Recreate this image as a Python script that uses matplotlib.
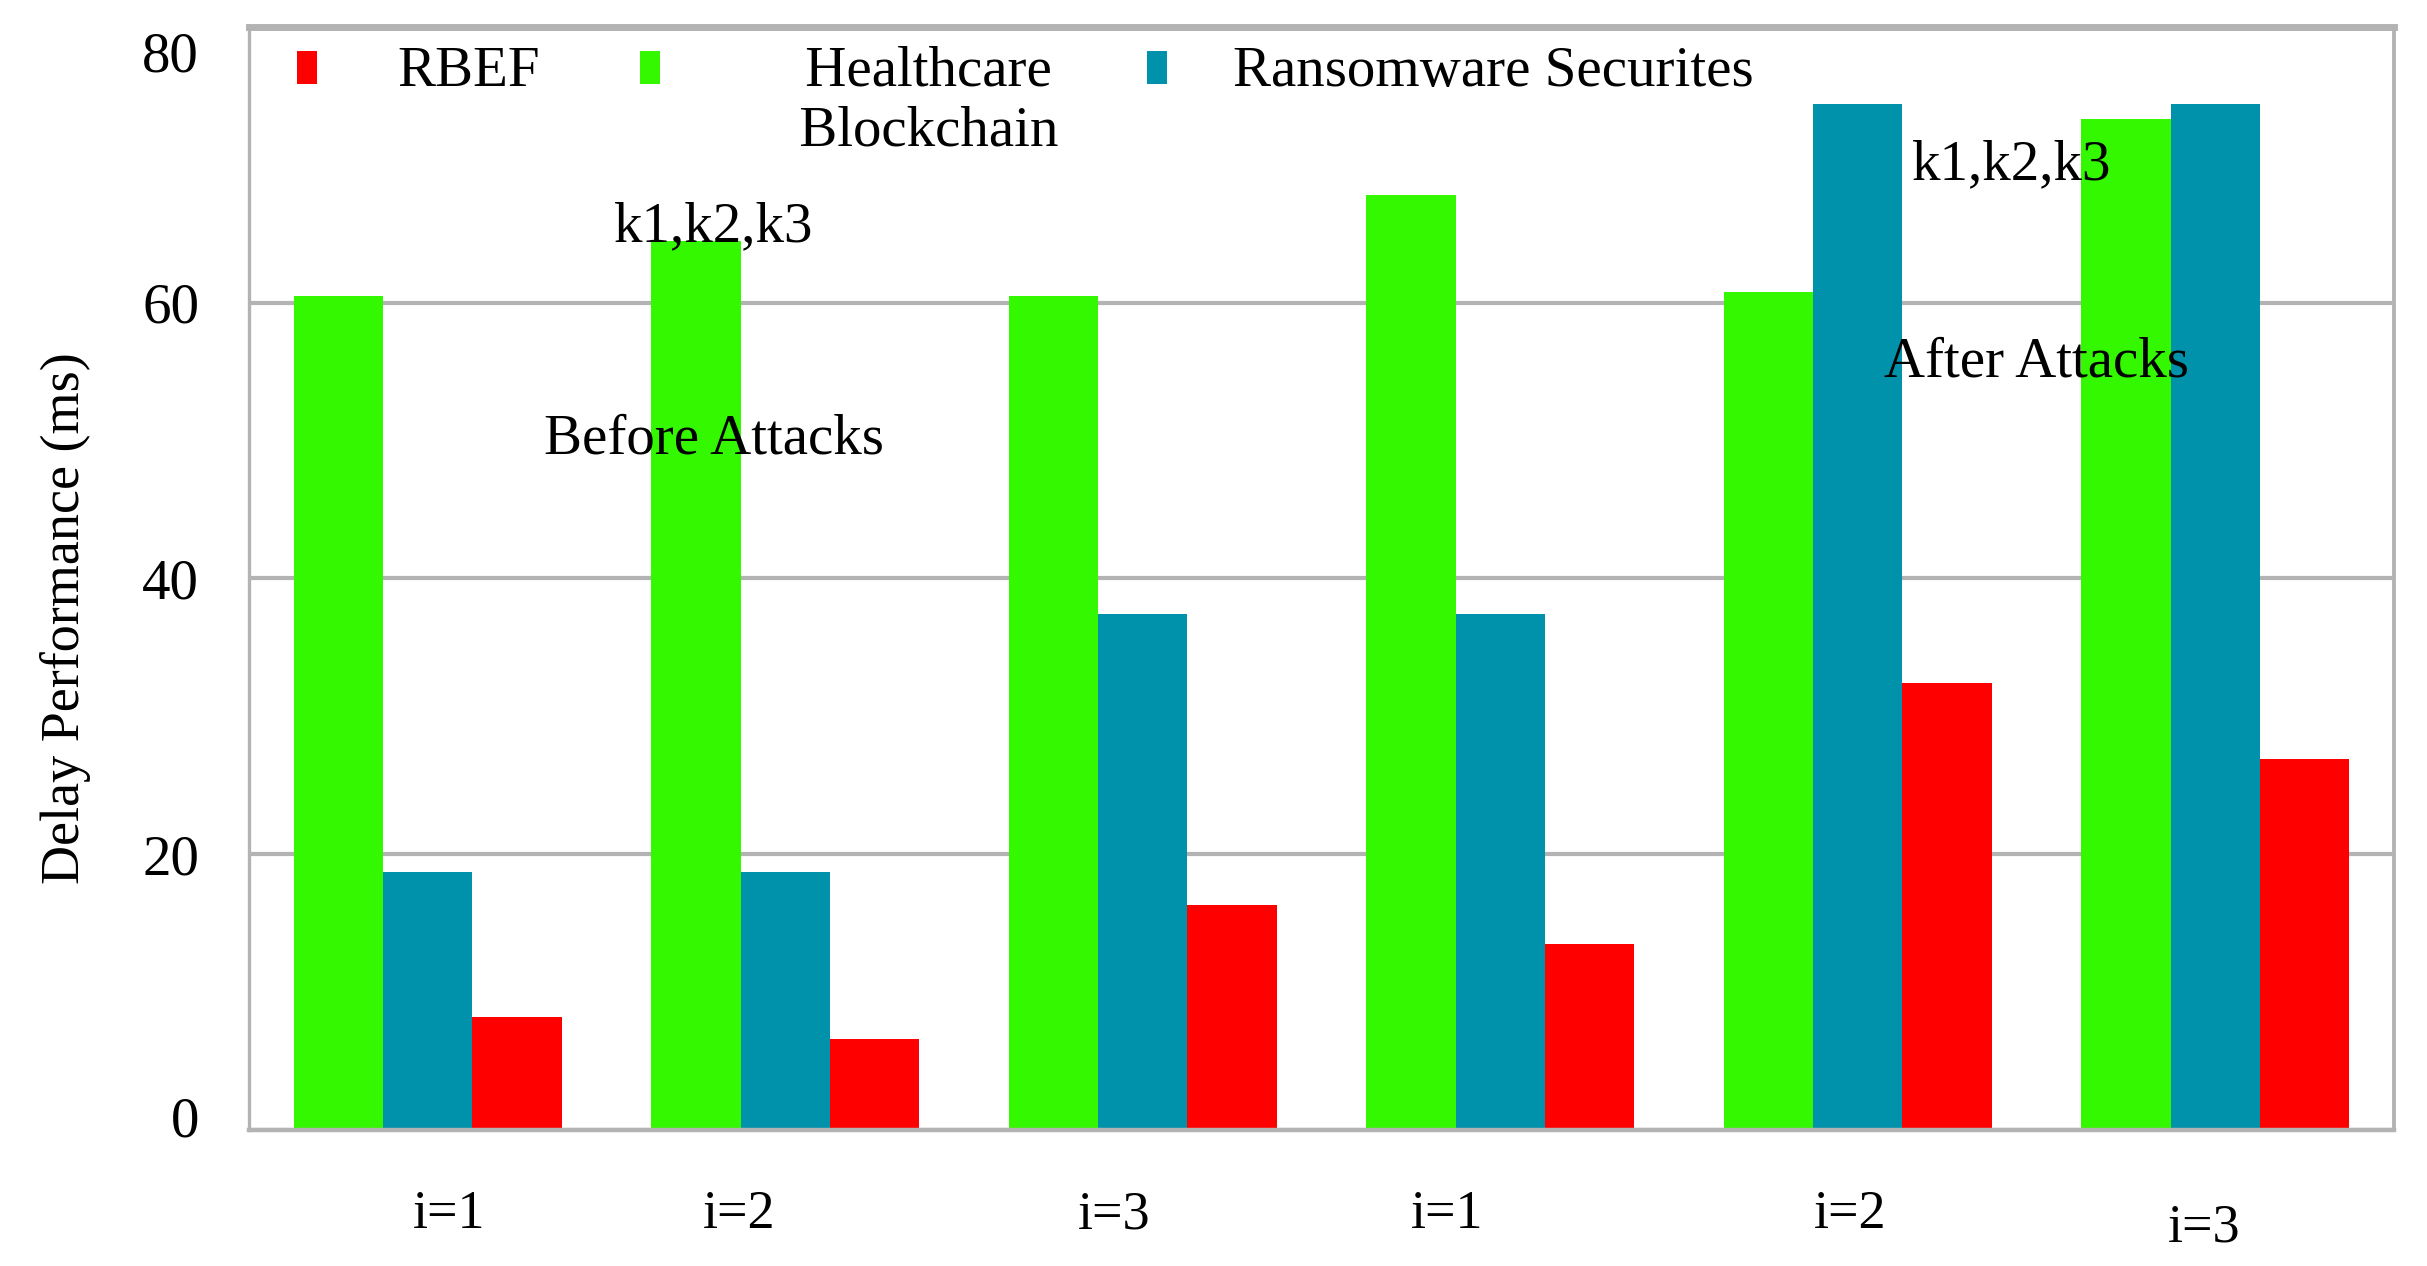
import matplotlib
matplotlib.use("Agg")
import matplotlib.pyplot as plt
import matplotlib.transforms as mtransforms
import numpy as np

# ---- data ----
groups = ["i=1", "i=2", "i=3", "i=1", "i=2", "i=3"]
healthcare = [60.5, 64.5, 60.5, 67.8, 60.8, 73.3]
ransomware = [18.7, 18.7, 37.4, 37.4, 74.4, 74.4]
rbef = [8.2, 6.6, 16.3, 13.5, 32.4, 26.9]
yticks = [0, 20, 40, 60, 80]
series_names = ["RBEF", "Healthcare\nBlockchain", "Ransomware Securites"]

# ---- style ----
C_GREEN = "#33F800"
C_TEAL = "#0092AA"
C_RED = "#FF0000"
C_GRID = "#B3B3B3"
FS = 41
label_dx = [0.06, -0.13, -0.08, -0.15, -0.02, -0.03]
label_dy = [0, 0, 0, 0, 0, -0.012]

plt.rcParams["font.family"] = ["Liberation Serif", "DejaVu Serif"]

fig = plt.figure(figsize=(24.27, 12.66), dpi=100)
ax = fig.add_axes([0.1026, 0.1074, 0.8838, 0.8713])

x = np.arange(len(groups))
w = 0.25
b_g = ax.bar(x - w, healthcare, w, color=C_GREEN, label=series_names[1], zorder=2)
b_t = ax.bar(x, ransomware, w, color=C_TEAL, label=series_names[2], zorder=2)
b_r = ax.bar(x + w, rbef, w, color=C_RED, label=series_names[0], zorder=2)

ax.set_xlim(-0.5, len(groups) - 0.5)
ax.set_ylim(0, 80)
ax.set_yticks(yticks)
ax.set_yticklabels([str(v) for v in yticks], fontsize=FS)
ax.set_xticks([])
ax.tick_params(axis="y", length=0, pad=36)
ax.yaxis.grid(True, color=C_GRID, linewidth=3, zorder=0)
ax.set_axisbelow(True)

# nudge the extreme tick labels (80 down, 0 up) as in the reference
for lab in ax.get_yticklabels():
    txt = lab.get_text()
    if txt == "80":
        lab.set_transform(lab.get_transform() + mtransforms.ScaledTranslation(0, -18 / 72, fig.dpi_scale_trans))
    elif txt == "0":
        lab.set_transform(lab.get_transform() + mtransforms.ScaledTranslation(0, 10 / 72, fig.dpi_scale_trans))

for side, lw in [("top", 5), ("bottom", 3.2), ("left", 2.4), ("right", 2.8)]:
    ax.spines[side].set_color(C_GRID)
    ax.spines[side].set_linewidth(lw)

ax.set_ylabel("Delay Performance (ms)", fontsize=FS - 2)
ax.yaxis.set_label_coords(-0.0735, 0.464)

for i, g in enumerate(groups):
    ax.text(x[i] + label_dx[i], -0.077 + label_dy[i], g, fontsize=FS - 2,
            ha="center", va="center", transform=ax.get_xaxis_transform())

ax.text(0.80, 65.5, "k1,k2,k3", fontsize=FS, ha="center", va="center", zorder=5)
ax.text(0.80, 50.1, "Before Attacks", fontsize=FS, ha="center", va="center", zorder=5)
ax.text(4.43, 70.0, "k1,k2,k3", fontsize=FS, ha="center", va="center", zorder=5)
ax.text(4.50, 55.7, "After Attacks", fontsize=FS, ha="center", va="center", zorder=5)

# legend: all entries laid out on two text lines, markers level with the first line
leg_labels = []
for s in series_names:
    if "\n" in s:
        leg_labels.append("\n".join("     " + part for part in s.split("\n")))
    else:
        leg_labels.append(s + "\n")
leg = ax.legend(handles=[b_r, b_g, b_t], labels=leg_labels, ncol=3, loc="upper left",
                bbox_to_anchor=(0.0223, 0.983), frameon=False, fontsize=FS,
                handlelength=0.36, handleheight=0.52, handletextpad=1.4,
                columnspacing=1.55, borderpad=0, borderaxespad=0)
for t in leg.get_texts():
    t.set_multialignment("center")
leg_texts = leg.get_texts()
leg_texts[2].set_transform(leg_texts[2].get_transform()
                           + mtransforms.ScaledTranslation(-10 / 72, 0, fig.dpi_scale_trans))
for h in leg.legend_handles:
    h.set_y(h.get_y() + 0.6 * FS)
leg.legend_handles[1].set_x(leg.legend_handles[1].get_x() + 8.5)

fig.savefig("out.png", dpi=100)
